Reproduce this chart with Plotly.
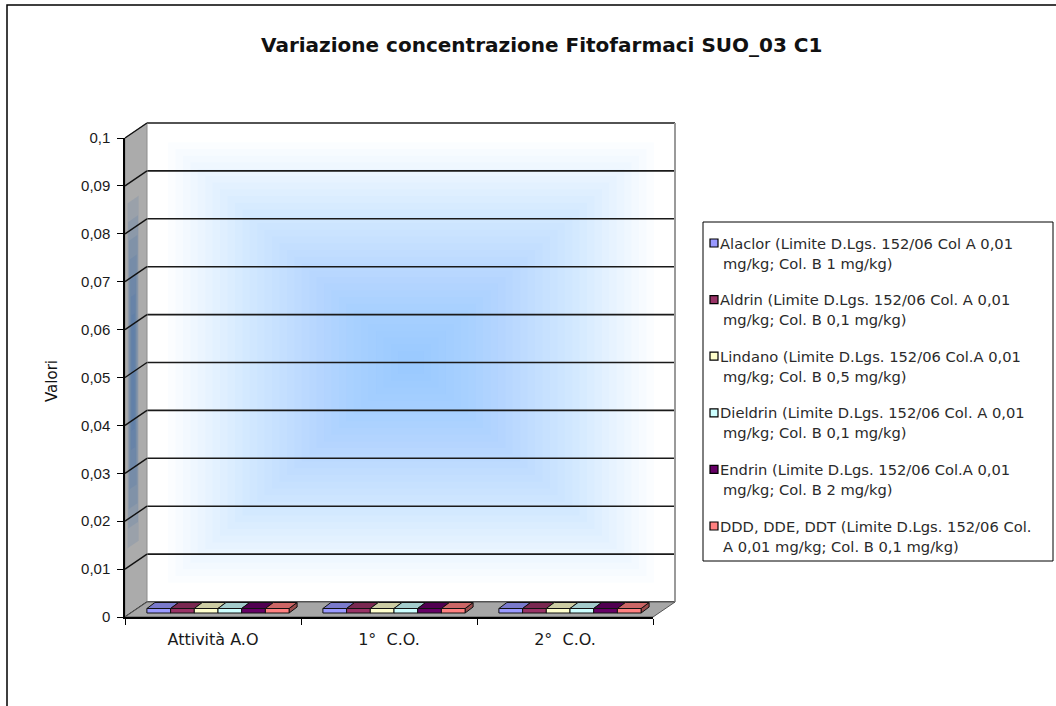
import plotly.graph_objects as go

# ---- data -------------------------------------------------------------
categories = ["Attività A.O", "1°  C.O.", "2°  C.O."]

series_names = [
    "Alaclor (Limite D.Lgs. 152/06 Col A 0,01 mg/kg; Col. B 1 mg/kg)",
    "Aldrin (Limite D.Lgs. 152/06 Col. A 0,01 mg/kg; Col. B 0,1 mg/kg)",
    "Lindano (Limite D.Lgs. 152/06 Col.A 0,01 mg/kg; Col. B 0,5 mg/kg)",
    "Dieldrin (Limite D.Lgs. 152/06 Col. A 0,01 mg/kg; Col. B 0,1 mg/kg)",
    "Endrin (Limite D.Lgs. 152/06 Col.A 0,01 mg/kg; Col. B 2 mg/kg)",
    "DDD, DDE, DDT (Limite D.Lgs. 152/06 Col. A 0,01 mg/kg; Col. B 0,1 mg/kg)",
]

# legend text split over two lines
legend_lines = [
    ("Alaclor (Limite D.Lgs. 152/06 Col A 0,01", "mg/kg; Col. B 1 mg/kg)"),
    ("Aldrin (Limite D.Lgs. 152/06 Col. A 0,01", "mg/kg; Col. B 0,1 mg/kg)"),
    ("Lindano (Limite D.Lgs. 152/06 Col.A 0,01", "mg/kg; Col. B 0,5 mg/kg)"),
    ("Dieldrin (Limite D.Lgs. 152/06 Col. A 0,01", "mg/kg; Col. B 0,1 mg/kg)"),
    ("Endrin (Limite D.Lgs. 152/06 Col.A 0,01", "mg/kg; Col. B 2 mg/kg)"),
    ("DDD, DDE, DDT (Limite D.Lgs. 152/06 Col.", "A 0,01 mg/kg; Col. B 0,1 mg/kg)"),
]

alaclor = [0, 0, 0]
aldrin = [0, 0, 0]
lindano = [0, 0, 0]
dieldrin = [0, 0, 0]
endrin = [0, 0, 0]
ddd_dde_ddt = [0, 0, 0]
series_values = [alaclor, aldrin, lindano, dieldrin, endrin, ddd_dde_ddt]

y_ticks = [0, 0.01, 0.02, 0.03, 0.04, 0.05, 0.06, 0.07, 0.08, 0.09, 0.1]
y_tick_labels = ["0", "0,01", "0,02", "0,03", "0,04", "0,05",
                 "0,06", "0,07", "0,08", "0,09", "0,1"]

# ---- styling ----------------------------------------------------------
colors = ["#9999FF", "#993366", "#FFFFCC", "#CCFFFF", "#660066", "#FF8080"]
FONT = "Arial, Liberation Sans, sans-serif"
WIDE = "DejaVu Sans, Verdana, sans-serif"
W, H = 1056, 706

# front plane of the 3D box (pixels)
FX0, FX1 = 125, 653
FY0, FY1 = 617, 138          # y pixel of value 0 and of 0.1
DEPTH_X, DEPTH_Y = 22, 15    # wall depth offset in pixels

x_dom = [FX0 / W, FX1 / W]
y_dom = [(H - FY0) / H, (H - FY1) / H]
DXd = DEPTH_X / (FX1 - FX0)
DYd = DEPTH_Y / (FY0 - FY1)
Y_MAX = 0.1
px_x = 3.0 / (FX1 - FX0)      # category units per pixel
px_y = Y_MAX / (FY0 - FY1)    # value units per pixel


def shade(hex_color, f):
    h = hex_color.lstrip("#")
    r, g, b = (int(h[i:i + 2], 16) for i in (0, 2, 4))
    return "rgb(%d,%d,%d)" % (int(r * f), int(g * f), int(b * f))


def p2x(px):
    return px / W


def p2y(py):
    return 1 - py / H


fig = go.Figure()

for name, vals, col in zip(series_names, series_values, colors):
    fig.add_trace(go.Bar(x=categories, y=vals, name=name,
                         marker=dict(color=col, line=dict(width=0)),
                         showlegend=False))

shapes = []

# back wall: rectangular "from centre" blue gradient
N_RINGS = 32
for k in range(N_RINGS):
    s = 0.92 - k * (0.9 / N_RINGS)
    shapes.append(dict(type="rect", xref="x domain", yref="y domain",
                       x0=0.5 + DXd - 0.5 * s, x1=0.5 + DXd + 0.5 * s,
                       y0=0.5 + DYd - 0.5 * s, y1=0.5 + DYd + 0.5 * s,
                       fillcolor="rgba(95,172,250,0.025)", line=dict(width=0),
                       layer="below"))

# back wall gridlines
for t in y_ticks:
    yd = t / Y_MAX + DYd
    shapes.append(dict(type="line", xref="x domain", yref="y domain",
                       x0=DXd, x1=1 + DXd, y0=yd, y1=yd,
                       line=dict(color="#1a1a1a", width=1.6), layer="below"))

# back wall right edge
shapes.append(dict(type="line", xref="x domain", yref="y domain",
                   x0=1 + DXd, x1=1 + DXd, y0=DYd, y1=1 + DYd,
                   line=dict(color="#9a9a9a", width=2), layer="below"))

# side wall
shapes.append(dict(type="path", xref="x domain", yref="y domain",
                   path="M 0,0 L 0,1 L %f,%f L %f,%f Z" % (DXd, 1 + DYd, DXd, DYd),
                   fillcolor="#ababab", line=dict(color="#8c8c8c", width=1),
                   layer="below"))
for k in range(7):
    a = 0.16
    y0 = 0.14 + 0.04 * k
    y1 = 0.86 - 0.04 * k
    x0 = DXd * (0.12 + 0.03 * k)
    x1 = DXd * (0.62 - 0.03 * k)
    shapes.append(dict(type="path", xref="x domain", yref="y domain",
                       path="M %f,%f L %f,%f L %f,%f L %f,%f Z" % (
                           x0, y0 + DYd * x0 / DXd, x0, y1 + DYd * x0 / DXd,
                           x1, y1 + DYd * x1 / DXd, x1, y0 + DYd * x1 / DXd),
                       fillcolor="rgba(70,110,170,%.2f)" % a, line=dict(width=0),
                       layer="below"))

# tick connectors on the side wall
for t in y_ticks:
    yd = t / Y_MAX
    shapes.append(dict(type="line", xref="x domain", yref="y domain",
                       x0=0, x1=DXd, y0=yd, y1=yd + DYd,
                       line=dict(color="#111111", width=1.4), layer="below"))

# floor
shapes.append(dict(type="path", xref="x domain", yref="y domain",
                   path="M 0,0 L 1,0 L %f,%f L %f,%f Z" % (1 + DXd, DYd, DXd, DYd),
                   fillcolor="#a6a6a6", line=dict(color="#555555", width=1),
                   layer="below"))

# bars drawn as thin 3D slabs placed at mid depth
BAR_W = 23.7 * px_x
FRONT_DX, FRONT_DY = 5 * px_x, 4 * px_y
TOP_DX, TOP_DY = 8 * px_x, 6 * px_y
SLAB_H = 4.5 * px_y
n_series = len(series_values)
for j in range(len(categories)):
    for i, (vals, col) in enumerate(zip(series_values, colors)):
        v = vals[j]
        xa = j - n_series * BAR_W / 2 + i * BAR_W + FRONT_DX
        xb = xa + BAR_W
        yb = FRONT_DY
        yt = v + FRONT_DY + SLAB_H
        # right side face
        shapes.append(dict(type="path", xref="x", yref="y", layer="above",
                           path="M %f,%f L %f,%f L %f,%f L %f,%f Z" % (
                               xb, yb, xb, yt, xb + TOP_DX, yt + TOP_DY,
                               xb + TOP_DX, yb + TOP_DY),
                           fillcolor=shade(col, 0.6),
                           line=dict(color="#111111", width=1)))
        # front face
        shapes.append(dict(type="path", xref="x", yref="y", layer="above",
                           path="M %f,%f L %f,%f L %f,%f L %f,%f Z" % (
                               xa, yb, xa, yt, xb, yt, xb, yb),
                           fillcolor=col, line=dict(color="#111111", width=1)))
        # top face
        shapes.append(dict(type="path", xref="x", yref="y", layer="above",
                           path="M %f,%f L %f,%f L %f,%f L %f,%f Z" % (
                               xa, yt, xb, yt, xb + TOP_DX, yt + TOP_DY,
                               xa + TOP_DX, yt + TOP_DY),
                           fillcolor=shade(col, 0.8),
                           line=dict(color="#111111", width=1)))

# outer chart frame (top and left edges)
shapes.append(dict(type="path", xref="paper", yref="paper",
                   path="M %f,%f L %f,%f L %f,%f" % (p2x(7), -0.01, p2x(7), p2y(5),
                                                      1.01, p2y(5)),
                   line=dict(color="black", width=1.5)))

# legend box and keys
LEG_X0, LEG_X1, LEG_Y0, LEG_Y1 = 703, 1053, 222, 561
shapes.append(dict(type="rect", xref="paper", yref="paper",
                   x0=p2x(LEG_X0), x1=p2x(LEG_X1), y0=p2y(LEG_Y1), y1=p2y(LEG_Y0),
                   line=dict(color="black", width=1), fillcolor="white"))

annotations = []
for k, ((l1, l2), col) in enumerate(zip(legend_lines, colors)):
    yc = 243 + 56.6 * k
    shapes.append(dict(type="rect", xref="paper", yref="paper",
                       x0=p2x(710), x1=p2x(718), y0=p2y(yc + 4), y1=p2y(yc - 4),
                       fillcolor=col, line=dict(color="black", width=1.2)))
    for line_txt, dy, xo in ((l1, 0, 718), (l2, 20, 721)):
        annotations.append(dict(xref="paper", yref="paper", x=p2x(xo),
                                y=p2y(yc + dy), xanchor="left", yanchor="middle",
                                text=line_txt, showarrow=False,
                                font=dict(family=WIDE, size=14.7, color="#2a2a2a")))

# title and axis title
annotations.append(dict(xref="paper", yref="paper", x=p2x(541), y=p2y(45),
                        xanchor="center", yanchor="middle", showarrow=False,
                        text="<b>Variazione concentrazione Fitofarmaci SUO_03 C1</b>",
                        font=dict(family=WIDE, size=20, color="#111111")))
annotations.append(dict(xref="paper", yref="paper", x=p2x(52), y=p2y(381),
                        xanchor="center", yanchor="middle", showarrow=False,
                        textangle=-90, text="Valori",
                        font=dict(family=WIDE, size=15, color="#111111")))

fig.update_layout(
    width=W, height=H,
    margin=dict(l=0, r=0, t=0, b=0),
    paper_bgcolor="white", plot_bgcolor="rgba(0,0,0,0)",
    separators=",.",
    showlegend=False,
    barmode="group",
    font=dict(family=FONT, size=14, color="#111111"),
    xaxis=dict(type="category", domain=x_dom, range=[-0.5, 2.5],
               tickson="boundaries", ticks="outside", ticklen=6,
               tickcolor="black", tickwidth=1.2,
               showline=True, linecolor="black", linewidth=2,
               showgrid=False, zeroline=False, automargin=False,
               ticklabelstandoff=7,
               tickfont=dict(family=WIDE, size=16, color="#1a1a1a"),
               fixedrange=True),
    yaxis=dict(domain=y_dom, range=[0, Y_MAX], tickmode="array",
               tickvals=y_ticks, ticktext=y_tick_labels,
               ticks="outside", ticklen=6, tickcolor="black", tickwidth=1.2,
               showline=True, linecolor="black", linewidth=1.5,
               showgrid=False, zeroline=False, automargin=False,
               ticklabelstandoff=4,
               tickfont=dict(family=FONT, size=15, color="#1a1a1a"),
               fixedrange=True),
    shapes=shapes,
    annotations=annotations,
)

fig.write_html("out.html")
